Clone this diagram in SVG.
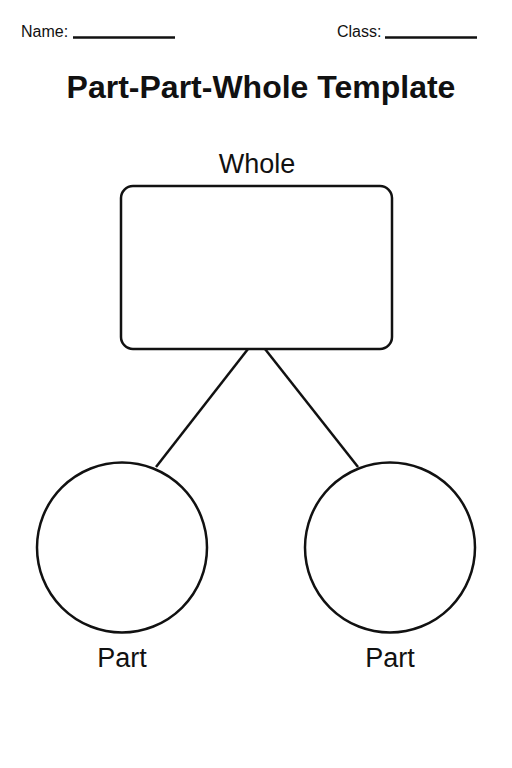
<svg xmlns="http://www.w3.org/2000/svg" width="512" height="768" viewBox="0 0 512 768">
<style>
text{font-family:"Liberation Sans",Arial,sans-serif;fill:#111}
.hdr{font-size:16px}
.title{font-size:32px;font-weight:bold;text-anchor:middle}
.lbl{font-size:27px;text-anchor:middle}
.shape{fill:#fff;stroke:#111;stroke-width:2.5}
.conn{stroke:#111;stroke-width:2.5;fill:none}
</style>
<rect width="512" height="768" fill="#fff"/>
<g id="header">
<text class="hdr" x="21" y="37">Name:</text>
<line class="conn" x1="73" y1="37.5" x2="175" y2="37.5" stroke-width="1.5"/>
<text class="hdr" x="337" y="37">Class:</text>
<line class="conn" x1="385" y1="37.5" x2="477" y2="37.5" stroke-width="1.5"/>
</g>
<text class="title" x="261" y="98">Part-Part-Whole Template</text>
<g id="connectors">
<line class="conn" x1="248" y1="349" x2="156" y2="467"/>
<line class="conn" x1="265" y1="349" x2="358" y2="467"/>
</g>
<g id="whole">
<text class="lbl" x="257" y="173">Whole</text>
<rect class="shape" x="121" y="186" width="271" height="163" rx="12"/>
</g>
<g id="part-left">
<circle class="shape" cx="122" cy="547.5" r="85"/>
<text class="lbl" x="122" y="667">Part</text>
</g>
<g id="part-right">
<circle class="shape" cx="390" cy="547.5" r="85"/>
<text class="lbl" x="390" y="667">Part</text>
</g>
</svg>
